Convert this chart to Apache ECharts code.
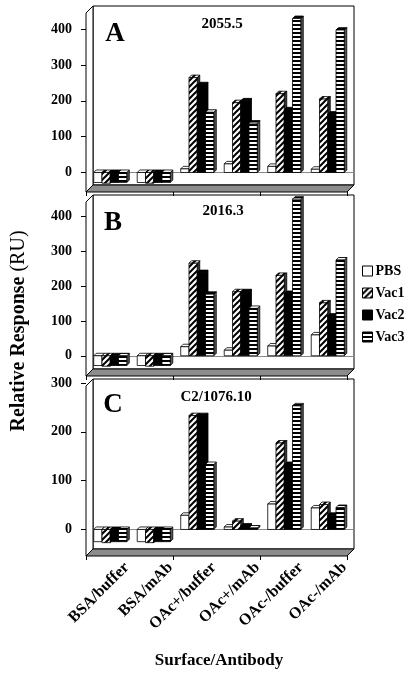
<!DOCTYPE html>
<html><head><meta charset="utf-8">
<script src="https://cdn.jsdelivr.net/npm/echarts@6/dist/echarts.min.js"></script>
<style>html,body{margin:0;padding:0;background:#fff}#c{width:409px;height:675px}</style>
</head><body><div id="c"></div>
<script>
// ---------------- data ----------------
const categories = ['BSA/buffer','BSA/mAb','OAc+/buffer','OAc+/mAb','OAc-/buffer','OAc-/mAb'];
const seriesNames = ['PBS','Vac1','Vac2','Vac3'];

const A_PBS  = [-28,-28, 10, 24, 17,  9];
const A_Vac1 = [-30,-30,265,195,220,205];
const A_Vac2 = [-28,-28,245,200,175,163];
const A_Vac3 = [-28,-28,168,138,430,398];

const B_PBS  = [-28,-28, 26, 16, 28, 60];
const B_Vac1 = [-30,-30,266,184,231,152];
const B_Vac2 = [-28,-28,239,184,179,114];
const B_Vac3 = [-28,-28,177,136,450,275];

const C_PBS  = [-25,-25, 29,  5, 52, 44];
const C_Vac1 = [-27,-27,233, 17,177, 51];
const C_Vac2 = [-25,-25,233,  7,133, 29];
const C_Vac3 = [-25,-25,133,  3,253, 45];

const panelLetters = ['A','B','C'];
const panelLabels = ['2055.5','2016.3','C2/1076.10'];
const ticksA = [0,100,200,300,400];
const ticksB = [0,100,200,300,400];
const ticksC = [0,100,200,300];
const panelSeries = [[A_PBS,A_Vac1,A_Vac2,A_Vac3],[B_PBS,B_Vac1,B_Vac2,B_Vac3],[C_PBS,C_Vac1,C_Vac2,C_Vac3]];
const panelTicks = [ticksA, ticksB, ticksC];
const yTitle = 'Relative Response ';
const yUnit = '(RU)';
const xTitle = 'Surface/Antibody';

// ---------------- layout ----------------
const FONT = '"Liberation Serif","Times New Roman",serif';
const L = 93, W = 261, D = 7;
const layout = [
  {top:6,   height:179, min:-35, max:465},
  {top:195, height:174, min:-38, max:462},
  {top:379, height:170, min:-40, max:308}
];
const letterPos = [[115,34],[113,223],[113,405]];
const labelPos = [[222,24],[223,211],[216,397]];

// patterns
function diagPattern(){
  const c = document.createElement('canvas'); c.width = 6; c.height = 6;
  const g = c.getContext('2d'); g.fillStyle = '#fff'; g.fillRect(0,0,6,6);
  g.strokeStyle = '#000'; g.lineWidth = 2; g.beginPath();
  g.moveTo(-1,7); g.lineTo(7,-1); g.moveTo(-1,1); g.lineTo(1,-1); g.moveTo(5,7); g.lineTo(7,5);
  g.stroke();
  return {image:c, repeat:'repeat'};
}
function horizPattern(){
  const c = document.createElement('canvas'); c.width = 4; c.height = 4;
  const g = c.getContext('2d'); g.fillStyle = '#fff'; g.fillRect(0,0,4,4);
  g.fillStyle = '#000'; g.fillRect(0,0,4,2);
  return {image:c, repeat:'repeat'};
}
const fills = ['#ffffff', diagPattern(), '#000000', horizPattern()];
const sideFills = ['#9a9a9a', '#333333', '#000000', '#555555'];

function makeRender(k){
  return function(params, api){
    const cat = api.value(0), v = api.value(1);
    const c0 = api.coord([cat, 0]);
    const cv = api.coord([cat, v]);
    const band = api.size([1,0])[0];
    const w = band * 0.19;
    const dd = 2.5;
    const x0 = c0[0] - 2*w - 4.5 + k*w;
    const x1 = x0 + w;
    const yTop = Math.min(c0[1], cv[1]), yBot = Math.max(c0[1], cv[1]);
    const st = {stroke:'#000', lineWidth:0.8};
    return {type:'group', children:[
      {type:'polygon', shape:{points:[[x1,yTop],[x1+dd,yTop-dd],[x1+dd,yBot-dd],[x1,yBot]]},
        style:Object.assign({fill:sideFills[k]}, st)},
      {type:'polygon', shape:{points:[[x0,yTop],[x0+dd,yTop-dd],[x1+dd,yTop-dd],[x1,yTop]]},
        style:Object.assign({fill:fills[k]}, st)},
      {type:'rect', shape:{x:x0, y:yTop, width:w, height:yBot-yTop},
        style:Object.assign({fill:fills[k]}, st)}
    ]};
  };
}

const grid = [], xAxis = [], yAxis = [], series = [], graphic = [];
layout.forEach((p, i) => {
  const pg = grid.length;
  grid.push({left:L, width:W, top:p.top, height:p.height});
  xAxis.push({type:'category', gridIndex:pg, data:categories, boundaryGap:true,
    axisLine:{show:true, onZero:true, lineStyle:{color:'#8a8a8a', width:1}},
    axisTick:{show:false}, axisLabel:{show:false}, splitLine:{show:false}});
  yAxis.push({type:'value', gridIndex:pg, min:p.min, max:p.max, offset:D,
    axisLine:{show:false}, splitLine:{show:false},
    axisTick:{show:true, length:5, customValues:panelTicks[i], lineStyle:{color:'#000'}},
    axisLabel:{customValues:panelTicks[i], margin:14, color:'#000', fontFamily:FONT, fontWeight:'bold', fontSize:14}});
  panelSeries[i].forEach((vals, k) => {
    series.push({type:'custom', name:seriesNames[k], xAxisIndex:pg, yAxisIndex:pg,
      itemStyle:{color:fills[k], borderColor:'#000', borderWidth:1},
      renderItem:makeRender(k), encode:{x:0, y:1},
      data:vals.map((v, j) => [j, v])});
  });
  // frame
  const T = p.top, Bm = p.top + p.height, R = L + W;
  graphic.push({type:'rect', z:-10, shape:{x:L, y:T, width:W, height:p.height}, style:{fill:'#fff', stroke:'#000', lineWidth:1}});
  graphic.push({type:'polygon', z:-10, shape:{points:[[L-D,T+D],[L,T],[L,Bm],[L-D,Bm+D]]}, style:{fill:'#fff', stroke:'#000', lineWidth:1}});
  graphic.push({type:'polygon', z:-10, shape:{points:[[L,Bm],[R,Bm],[R-D,Bm+D],[L-D,Bm+D]]}, style:{fill:'#8c8c8c', stroke:'#000', lineWidth:1}});
  graphic.push({type:'text', z:5, x:letterPos[i][0], y:letterPos[i][1],
    style:{text:panelLetters[i], font:'bold 27px ' + FONT, fill:'#000', align:'center', verticalAlign:'middle'}});
  graphic.push({type:'text', z:5, x:labelPos[i][0], y:labelPos[i][1],
    style:{text:panelLabels[i], font:'bold 15px ' + FONT, fill:'#000', align:'center', verticalAlign:'middle'}});
  // tick grid at front floor edge
  const gi = grid.length;
  grid.push({left:L-D, width:W, top:Bm+D-1, height:1});
  xAxis.push({type:'category', gridIndex:gi, data:categories, boundaryGap:true,
    axisLine:{show:false}, axisTick:{show:true, length:4, lineStyle:{color:'#000'}}, axisLabel:{show:false}});
  yAxis.push({type:'value', gridIndex:gi, show:false});
});
// label grid
const lg = grid.length;
grid.push({left:L+12, width:W, top:555, height:1});
xAxis.push({type:'category', gridIndex:lg, data:categories, boundaryGap:true,
  axisLine:{show:false}, axisTick:{show:false},
  axisLabel:{show:true, rotate:45, margin:9, interval:0, color:'#000', fontFamily:FONT, fontWeight:'bold', fontSize:16}});
yAxis.push({type:'value', gridIndex:lg, show:false});

graphic.push({type:'text', z:5, x:219, y:661,
  style:{text:xTitle, font:'bold 17px ' + FONT, fill:'#000', align:'center', verticalAlign:'middle'}});
graphic.push({type:'text', z:5, x:19, y:331, rotation:Math.PI/2,
  style:{text:'{b|' + yTitle + '}{n|' + yUnit + '}', align:'center', verticalAlign:'middle',
    rich:{b:{fontFamily:FONT, fontWeight:'bold', fontSize:20, fill:'#000'}, n:{fontFamily:FONT, fontSize:20, fill:'#000'}}}});

const chart = echarts.init(document.getElementById('c'), null, {renderer:'canvas'});
chart.setOption({
  animation:false,
  backgroundColor:'#fff',
  grid, xAxis, yAxis, series, graphic,
  legend:{data:seriesNames, orient:'vertical', left:357, top:259, icon:'rect', itemWidth:10, itemHeight:10, itemGap:8,
    itemStyle:{borderColor:'#000', borderWidth:1},
    textStyle:{fontFamily:FONT, fontWeight:'bold', fontSize:14, color:'#000', padding:[0,0,0,-2]}}
});
</script></body></html>
